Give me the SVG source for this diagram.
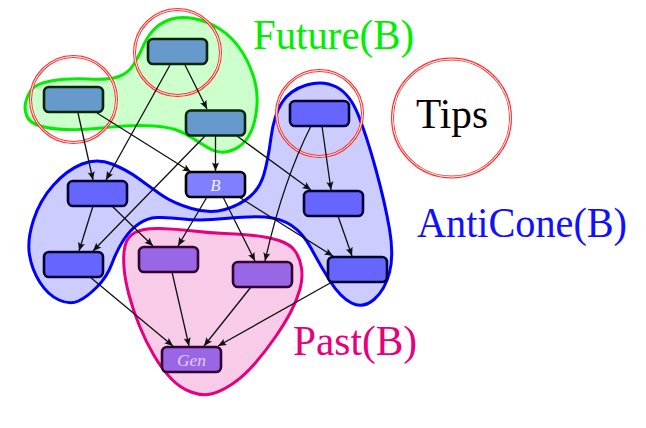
<svg xmlns="http://www.w3.org/2000/svg" width="646" height="428" viewBox="0 0 646 428">
<style>
.blob{stroke-width:3;stroke-linejoin:round}
.tip1{fill:none;stroke:#FF3030;stroke-width:3}
.tip2{fill:none;stroke:#FFFFFF;stroke-width:1}
.edge{fill:none;stroke:#111111;stroke-width:1.3}
.nd rect{stroke-width:2.6}
.fut rect{fill:#6699CC;stroke:#0A250A}
.anti rect{fill:#6666FF;stroke:#000033}
.pst rect{fill:#9966E6;stroke:#330033}
.big{font-family:'Liberation Serif','Times New Roman',serif;font-size:42px}
.lbl{font-family:'Liberation Serif','Times New Roman',serif;font-style:italic;font-size:17px}
</style>
<defs>
<marker id="arr" markerUnits="userSpaceOnUse" markerWidth="12" markerHeight="10" viewBox="-9 -5 10 10" refX="0" refY="0" orient="auto">
<path d="M0,0 L-8.5,-3.6 Q-5.8,0 -8.5,3.6 Z" fill="#111111"/>
</marker>
</defs>
<rect x="0" y="0" width="646" height="428" fill="#FFFFFF"/>
<g id="future-region">
<path class="blob" fill="#CCFFCC" stroke="#00EE00" d="M 25.5,103 Q 27,96 31,90 Q 35,84 51,81 Q 67,78 88.5,79 Q 110,80 119,76.5 Q 128,73 133,65.5 Q 138,58 142.5,47.5 Q 147,37 153.5,30 Q 160,23 170,19.5 Q 180,16 193.5,18.5 Q 207,21 219,28.5 Q 231,36 239.5,48 Q 248,60 253,75 Q 258,90 257,105 Q 256,120 251.5,130.5 Q 247,141 240,146 Q 233,151 225,152 Q 217,153 208.5,148 Q 200,143 191.5,137.5 Q 183,132 175,129.5 Q 167,127 153.5,126 Q 140,125 125,126 Q 110,127 96.5,128.5 Q 83,130 66.5,129.5 Q 50,129 40,126 Q 30,123 27,116.5 Q 24,110 25.5,103 Z"/>
<text class="big" x="253" y="49" fill="#00EE00" textLength="161" lengthAdjust="spacingAndGlyphs">Future(B)</text>
</g>
<g id="anticone-region">
<path class="blob" fill="#CCCCFF" stroke="#0000FF" d="M 59,300 Q 48,295 40,282.5 Q 32,270 29.5,255 Q 27,240 33.5,220 Q 40,200 53.5,185 Q 67,170 82,164 Q 97,158 112,164 Q 127,170 138.5,178.5 Q 150,187 161.5,195 Q 173,203 191.5,208.5 Q 210,214 225,209.5 Q 240,205 250,196.5 Q 260,188 264,174 Q 268,160 271,137.5 Q 274,115 282,102.5 Q 290,90 306.5,85 Q 323,80 336.5,87 Q 350,94 358.5,115.5 Q 367,137 376,170 Q 385,203 389.5,229 Q 394,255 389.5,272.5 Q 385,290 374,299.5 Q 363,309 351.5,303 Q 340,297 330,281 Q 320,265 311.5,249 Q 303,233 291.5,225.5 Q 280,218 265,217 Q 250,216 225,218.5 Q 200,221 183.5,219 Q 167,217 157,217.5 Q 147,218 138.5,224 Q 130,230 123.5,240 Q 117,250 112,263.5 Q 107,277 97,287 Q 87,297 78.5,301 Q 70,305 59,300 Z"/>
<text class="big" x="417" y="237" fill="#1010FF" textLength="210" lengthAdjust="spacingAndGlyphs">AntiCone(B)</text>
</g>
<g id="past-region">
<path class="blob" fill="#F8CCE8" stroke="#E6007E" d="M 125,246 Q 127,237 135,232.5 Q 143,228 160,228.5 Q 177,229 193.5,231 Q 210,233 225,233.5 Q 240,234 254,235.5 Q 268,237 279,240.5 Q 290,244 295,251 Q 300,258 301.5,268 Q 303,278 300,289 Q 297,300 291,311.5 Q 285,323 275,337.5 Q 265,352 254,364.5 Q 243,377 231.5,384.5 Q 220,392 211,394 Q 202,396 191,392 Q 180,388 171,378.5 Q 162,369 154,355.5 Q 146,342 139.5,326 Q 133,310 129,295 Q 125,280 124,267.5 Q 123,255 125,246 Z"/>
<text class="big" x="293" y="355" fill="#E6007E" textLength="124" lengthAdjust="spacingAndGlyphs">Past(B)</text>
</g>
<g id="tips">
<circle class="tip1" cx="177.5" cy="52.5" r="43"/><circle class="tip2" cx="177.5" cy="52.5" r="43"/>
<circle class="tip1" cx="73.5" cy="99.5" r="43"/><circle class="tip2" cx="73.5" cy="99.5" r="43"/>
<circle class="tip1" cx="319.5" cy="113.5" r="43"/><circle class="tip2" cx="319.5" cy="113.5" r="43"/>
<circle class="tip1" cx="451.5" cy="118" r="59"/><circle class="tip2" cx="451.5" cy="118" r="59"/>
<text class="big" x="416" y="128" fill="#000000" textLength="72" lengthAdjust="spacingAndGlyphs">Tips</text>
</g>
<g id="connectors">
<path class="edge" marker-end="url(#arr)" d="M185,65 L207,109"/>
<path class="edge" marker-end="url(#arr)" d="M170,65 L106,180"/>
<path class="edge" marker-end="url(#arr)" d="M78,113 L93,180"/>
<path class="edge" marker-end="url(#arr)" d="M97,113 L191,172"/>
<path class="edge" marker-end="url(#arr)" d="M215.5,136 L215.5,171"/>
<path class="edge" marker-end="url(#arr)" d="M205,136 L93,251"/>
<path class="edge" marker-end="url(#arr)" d="M237,136 L311,190"/>
<path class="edge" marker-end="url(#arr)" d="M322,126 L331,190"/>
<path class="edge" marker-end="url(#arr)" d="M311,126 Q283,181 265,261"/>
<path class="edge" marker-end="url(#arr)" d="M207,197 L178,246"/>
<path class="edge" marker-end="url(#arr)" d="M223,197 L255,261"/>
<path class="edge" marker-end="url(#arr)" d="M239,197 L333,256"/>
<path class="edge" marker-end="url(#arr)" d="M93,206 L79,251"/>
<path class="edge" marker-end="url(#arr)" d="M112,206 L153,246"/>
<path class="edge" marker-end="url(#arr)" d="M338,216 L352,256"/>
<path class="edge" marker-end="url(#arr)" d="M90,277 L173,346"/>
<path class="edge" marker-end="url(#arr)" d="M172,272 L189,346"/>
<path class="edge" marker-end="url(#arr)" d="M251,287 L204,346"/>
<path class="edge" marker-end="url(#arr)" d="M332,282 L218,346"/>
</g>
<g id="node-top" class="nd fut"><rect x="148" y="39" width="59" height="25" rx="5"/></g>
<g id="node-left-tip" class="nd fut"><rect x="44" y="87" width="59" height="25" rx="5"/></g>
<g id="node-future-r" class="nd fut"><rect x="186" y="110.5" width="59" height="25" rx="5"/></g>
<g id="node-B" class="nd"><rect x="186" y="172" width="59" height="25" rx="5" fill="#8080FF" stroke="#000000"/><text class="lbl" x="215.5" y="191" fill="#EEEEFF" text-anchor="middle">B</text></g>
<g id="node-anti-l1" class="nd anti"><rect x="68" y="181" width="59" height="25" rx="5"/></g>
<g id="node-anti-l2" class="nd anti"><rect x="44" y="252" width="59" height="25" rx="5"/></g>
<g id="node-anti-rt" class="nd anti"><rect x="290" y="101" width="59" height="25" rx="5"/></g>
<g id="node-anti-rm" class="nd anti"><rect x="304" y="191" width="59" height="25" rx="5"/></g>
<g id="node-anti-rb" class="nd anti"><rect x="328" y="257" width="59" height="25" rx="5"/></g>
<g id="node-past-1" class="nd pst"><rect x="139" y="247" width="59" height="25" rx="5"/></g>
<g id="node-past-2" class="nd pst"><rect x="233" y="262" width="59" height="25" rx="5"/></g>
<g id="node-gen" class="nd pst"><rect x="162" y="347" width="59" height="25" rx="5"/><text class="lbl" x="177" y="366" fill="#E8C8F0" textLength="29" lengthAdjust="spacingAndGlyphs">Gen</text></g>
</svg>
